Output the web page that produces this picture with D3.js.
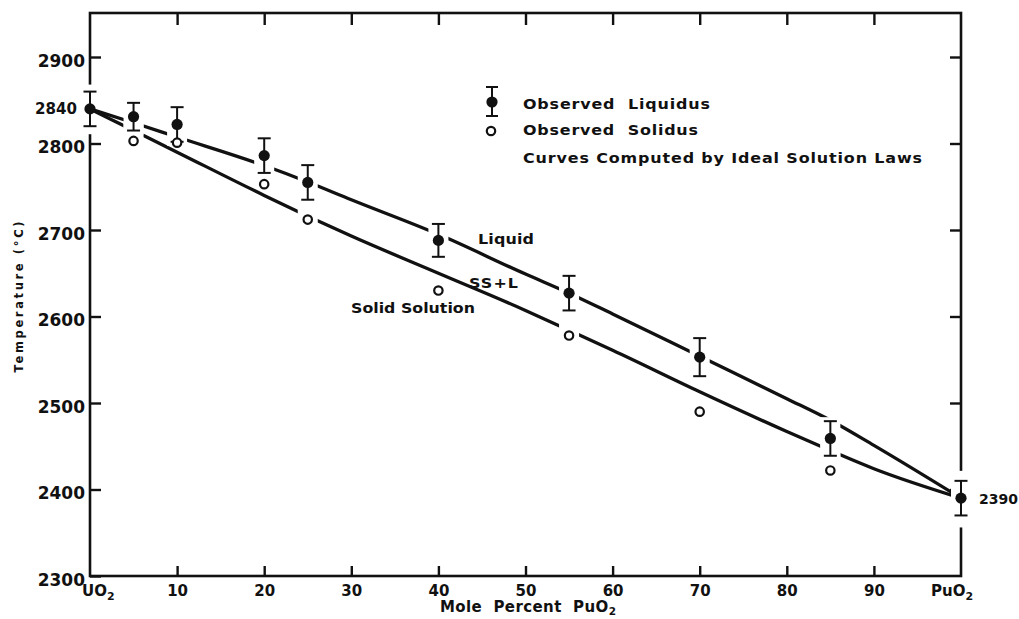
<!DOCTYPE html>
<html><head><meta charset="utf-8">
<script src="https://cdn.jsdelivr.net/npm/d3@7"></script>
<style>
html,body{margin:0;padding:0;background:#fff;}
svg text{font-family:"DejaVu Sans",sans-serif;font-weight:bold;fill:#111;white-space:pre;}
</style></head><body>
<svg id="chart" width="1019" height="619"></svg>
<script>
// Observed liquidus: composition (mole % PuO2), temperature (°C), half-width of error bar
const liquidusX = [0, 5, 10, 20, 25, 40, 55, 70, 85, 100];
const liquidusT = [2840, 2831, 2822, 2786, 2755, 2688, 2627, 2553, 2459, 2390];
const liquidusErr = [20, 16, 20, 20, 20, 19, 20, 22, 20, 20];

// Observed solidus
const solidusX = [5, 10, 20, 25, 40, 55, 70, 85];
const solidusT = [2803, 2801, 2753, 2712, 2630, 2578, 2490, 2422];

// Curves computed by ideal solution laws
const curveX = [0, 5, 10, 20, 25, 30, 40, 50, 55, 60, 70, 80, 85, 90, 100];
const liquidusCurve = [2840, 2824, 2807.5, 2774.5, 2755.5, 2735, 2695, 2649, 2627, 2603, 2554, 2505, 2480, 2451, 2390];
const solidusCurve = [2840, 2815, 2790, 2740, 2716, 2693, 2650, 2607, 2584, 2561, 2513, 2467, 2445, 2424, 2390];

// Compositions where the solidus line is broken around its circle
const solidusBreaks = [5, 25, 55, 85];

// Axis ticks and labels
const xTicks = [10, 20, 30, 40, 50, 60, 70, 80, 90];
const xTickLabels = ["10", "20", "30", "40", "50", "60", "70", "80", "90"];
const yTicks = [2300, 2400, 2500, 2600, 2700, 2800, 2900];
const yTickLabels = ["2300", "2400", "2500", "2600", "2700", "2800", "2900"];

const svg = d3.select("#chart");
const ink = "#111";

const x = d3.scaleLinear().domain([0, 100]).range([90, 961]);
const y = d3.scaleLinear().domain([2300, 2900]).range([576, 57]);
const frameTop = 13;

// Frame
svg.append("rect")
  .attr("x", x(0)).attr("y", frameTop)
  .attr("width", x(100) - x(0)).attr("height", y(2300) - frameTop)
  .attr("fill", "none").attr("stroke", ink).attr("stroke-width", 2.6);

function styleAxis(g, size) {
  g.select(".domain").remove();
  g.selectAll(".tick line").attr("stroke", ink).attr("stroke-width", 2.4);
  g.selectAll(".tick text").attr("font-size", size).attr("fill", ink)
    .attr("font-family", "DejaVu Sans").attr("font-weight", "bold");
}

// Left axis (inward ticks, labelled)
svg.append("g").attr("transform", `translate(${x(0)},0)`)
  .call(d3.axisLeft(y).tickValues(yTicks).tickSizeInner(-11).tickSizeOuter(0).tickPadding(5)
    .tickFormat((d, i) => yTickLabels[i]))
  .call(g => styleAxis(g, 17))
  .call(g => g.selectAll(".tick text").attr("dy", "0.54em"));

// Right axis (inward ticks only)
svg.append("g").attr("transform", `translate(${x(100)},0)`)
  .call(d3.axisRight(y).tickValues(yTicks.slice(1)).tickSizeInner(-11).tickSizeOuter(0).tickFormat(""))
  .call(g => styleAxis(g, 0));

// Bottom axis
svg.append("g").attr("transform", `translate(0,${y(2300)})`)
  .call(d3.axisBottom(x).tickValues(xTicks).tickSizeInner(-10).tickSizeOuter(0).tickPadding(9)
    .tickFormat((d, i) => xTickLabels[i]))
  .call(g => styleAxis(g, 15));

// Top axis
svg.append("g").attr("transform", `translate(0,${frameTop})`)
  .call(d3.axisTop(x).tickValues(xTicks).tickSizeInner(-12).tickSizeOuter(0).tickFormat(""))
  .call(g => styleAxis(g, 0));

// Lettering: widen glyphs a little, then spread to the drafted length
function label(xPos, yPos, txt, len, size) {
  const t = svg.append("text").attr("font-size", size || 14).text(txt);
  const w = t.node().getComputedTextLength();
  const sx = Math.min(1.14, len / w);
  t.attr("transform", `translate(${xPos},${yPos}) scale(${sx},1)`)
    .attr("textLength", len / sx).attr("lengthAdjust", "spacing");
  return t;
}

// End-member labels on the composition axis
function formula(xPos, yPos, main, sub) {
  const t = svg.append("text").attr("x", xPos).attr("y", yPos).attr("font-size", 15);
  t.append("tspan").text(main);
  t.append("tspan").attr("font-size", 11).attr("dy", 4).text(sub);
  return t;
}
formula(x(0) - 8, 595.5, "UO", "2");
formula(x(100) - 30, 595.5, "PuO", "2");

// Axis titles
const xt = svg.append("text").attr("x", 440).attr("y", 612).attr("font-size", 15)
  .attr("textLength", 176).attr("lengthAdjust", "spacing");
xt.append("tspan").text("Mole  Percent  PuO");
xt.append("tspan").attr("font-size", 10.5).attr("dy", 3).text("2");

svg.append("text")
  .attr("transform", "translate(23,297) rotate(-90)")
  .attr("text-anchor", "middle").attr("font-size", 11.5)
  .attr("textLength", 151).attr("lengthAdjust", "spacing")
  .text("Temperature (°C)");

// Computed curves
const line = d3.line().x(d => x(d[0])).y(d => y(d[1])).curve(d3.curveMonotoneX);
const curves = [liquidusCurve, solidusCurve];
svg.append("g").selectAll("path").data(curves).join("path")
  .attr("d", c => line(curveX.map((v, i) => [v, c[i]])))
  .attr("fill", "none").attr("stroke", ink).attr("stroke-width", 3.3);

// Breaks in the drafted lines around the observed points
const knock = svg.append("g").attr("fill", "#fff");
liquidusX.forEach((v, i) => {
  if (i === 0) return;
  knock.append("rect")
    .attr("x", x(v) - 10).attr("width", 20)
    .attr("y", y(liquidusT[i] + liquidusErr[i]) - 4)
    .attr("height", y(liquidusT[i] - liquidusErr[i]) - y(liquidusT[i] + liquidusErr[i]) + 8);
});
solidusBreaks.forEach(v => {
  const c = solidusCurve[curveX.indexOf(v)];
  knock.append("rect").attr("x", x(v) - 10).attr("width", 20)
    .attr("y", y(c) - 8).attr("height", 16);
});
// Frame is interrupted where the end-member points sit on it
[[0, 7, 8], [liquidusX.length - 1, 10, 12]].forEach(([i, above, below]) => {
  const top = y(liquidusT[i] + liquidusErr[i]) - above;
  const bot = y(liquidusT[i] - liquidusErr[i]) + below;
  knock.append("rect").attr("x", x(liquidusX[i]) - 4).attr("width", 8)
    .attr("y", top).attr("height", bot - top);
});

// Error bars
const eb = svg.append("g").attr("stroke", ink).attr("stroke-width", 2);
liquidusX.forEach((v, i) => {
  const cx = x(v), y1 = y(liquidusT[i] + liquidusErr[i]), y2 = y(liquidusT[i] - liquidusErr[i]);
  eb.append("line").attr("x1", cx).attr("x2", cx).attr("y1", y1).attr("y2", y2);
  eb.append("line").attr("x1", cx - 6.5).attr("x2", cx + 6.5).attr("y1", y1).attr("y2", y1);
  eb.append("line").attr("x1", cx - 6.5).attr("x2", cx + 6.5).attr("y1", y2).attr("y2", y2);
});

// Observed liquidus (filled) and solidus (open)
svg.append("g").selectAll("circle").data(liquidusX).join("circle")
  .attr("cx", d => x(d)).attr("cy", (d, i) => y(liquidusT[i])).attr("r", 5.6).attr("fill", ink);
svg.append("g").selectAll("circle").data(solidusX).join("circle")
  .attr("cx", d => x(d)).attr("cy", (d, i) => y(solidusT[i])).attr("r", 4.2)
  .attr("fill", "#fff").attr("stroke", ink).attr("stroke-width", 2.2);

// Melting points of the end members
label(35, y(liquidusT[0]) + 5.5, String(liquidusT[0]), 42, 15);
label(979, y(liquidusT[liquidusT.length - 1]) + 5.5, String(liquidusT[liquidusT.length - 1]), 39, 14);

// Phase-field labels
label(478, 244, "Liquid", 56);
label(469, 288, "SS+L", 49);
label(351, 313, "Solid Solution", 124);

// Legend
const lg = svg.append("g");
const lx = 492, ly = 102;
lg.append("line").attr("x1", lx).attr("x2", lx).attr("y1", ly - 15).attr("y2", ly + 14).attr("stroke", ink).attr("stroke-width", 2);
lg.append("line").attr("x1", lx - 6).attr("x2", lx + 6).attr("y1", ly - 15).attr("y2", ly - 15).attr("stroke", ink).attr("stroke-width", 2);
lg.append("line").attr("x1", lx - 6).attr("x2", lx + 6).attr("y1", ly + 14).attr("y2", ly + 14).attr("stroke", ink).attr("stroke-width", 2);
lg.append("circle").attr("cx", lx).attr("cy", ly).attr("r", 5.6).attr("fill", ink);
lg.append("circle").attr("cx", lx - 1).attr("cy", 131).attr("r", 4.2)
  .attr("fill", "#fff").attr("stroke", ink).attr("stroke-width", 2.2);
label(523, 109, "Observed  Liquidus", 187);
label(523, 135, "Observed  Solidus", 175);
label(523, 163, "Curves Computed by Ideal Solution Laws", 399);
</script>
</body></html>
